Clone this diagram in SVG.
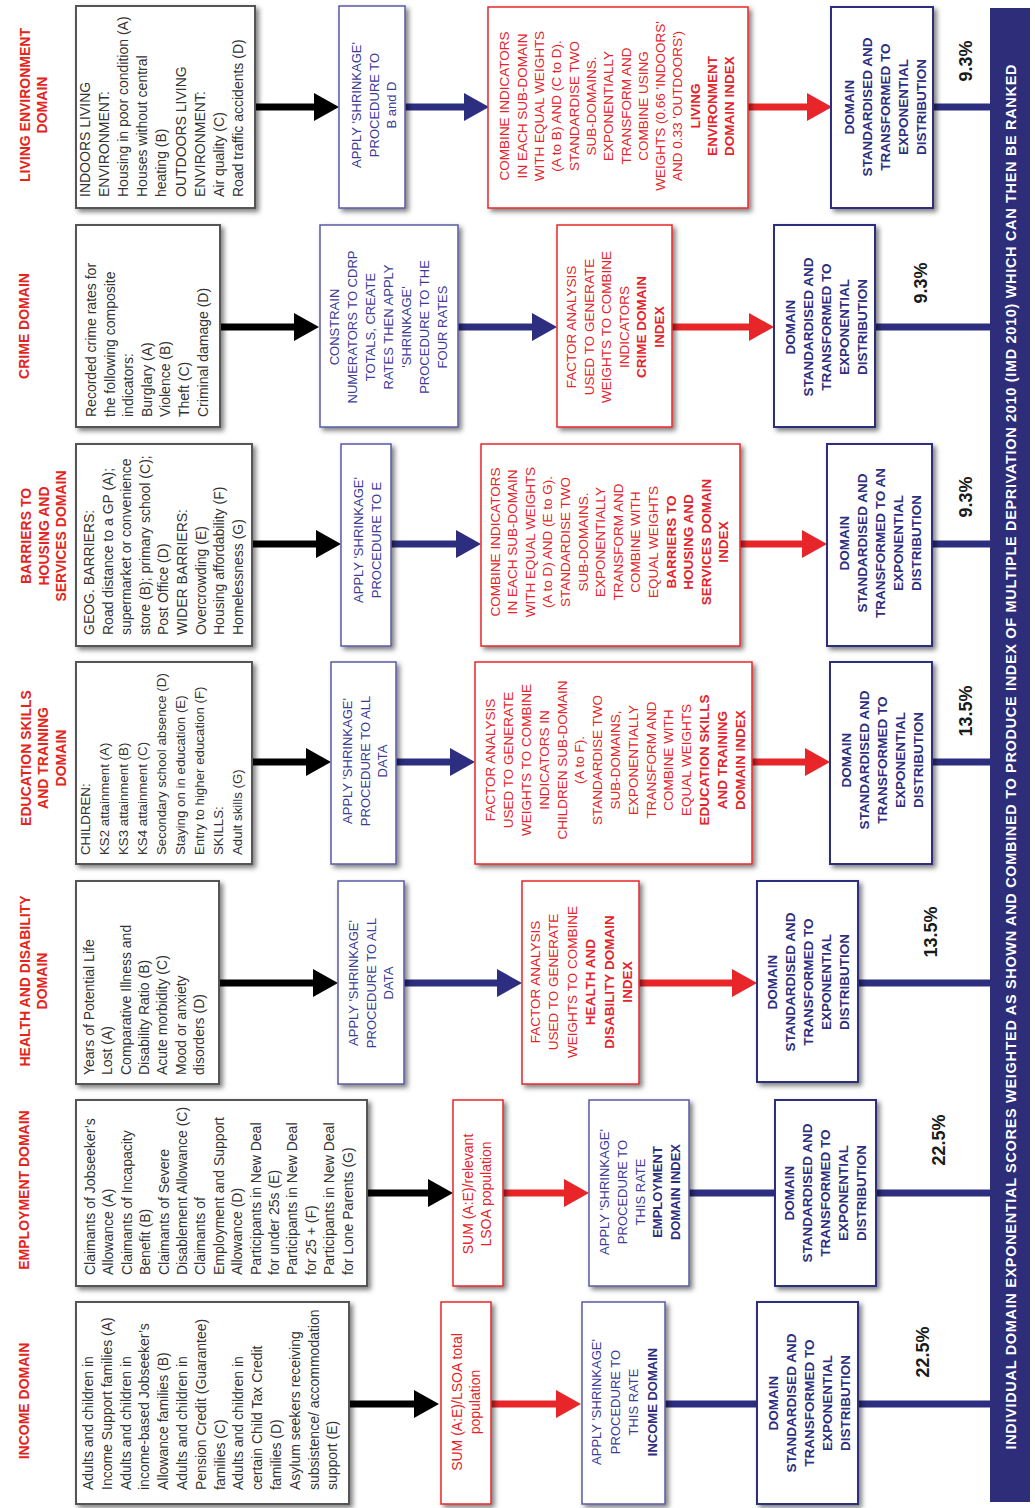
<svg xmlns="http://www.w3.org/2000/svg" width="1035" height="1508" viewBox="0 0 1035 1508">
<defs>
<filter id="sh" x="-15%" y="-15%" width="135%" height="135%"><feDropShadow dx="3" dy="3" stdDeviation="2.5" flood-color="#000" flood-opacity="0.5"/></filter>
<marker id="hK" markerUnits="userSpaceOnUse" markerWidth="25" markerHeight="28" refX="0" refY="14" orient="auto"><path d="M0,0L25,14L0,28z" fill="#000"/></marker>
<marker id="hN" markerUnits="userSpaceOnUse" markerWidth="25" markerHeight="28" refX="0" refY="14" orient="auto"><path d="M0,0L25,14L0,28z" fill="#2d2e7f"/></marker>
<marker id="hR" markerUnits="userSpaceOnUse" markerWidth="25" markerHeight="28" refX="0" refY="14" orient="auto"><path d="M0,0L25,14L0,28z" fill="#e8262a"/></marker>
</defs>
<style>
text{font-family:'Liberation Sans',Arial,sans-serif}
.b1{fill:#fff;stroke:#555;stroke-width:2;filter:url(#sh)}
.bb{fill:#fff;stroke:#5a5aa6;stroke-width:1.5;filter:url(#sh)}
.br{fill:#fff;stroke:#e8262a;stroke-width:1.5;filter:url(#sh)}
.bn{fill:#fff;stroke:#2d2e7f;stroke-width:2;filter:url(#sh)}
.t1{font-size:14px;fill:#333}
.t1s{font-size:13.3px}
.tb{font-size:13px;fill:#3c3c96}
.tbb{font-weight:bold;fill:#2d2e7f}
.tr{font-size:13.5px;fill:#e4232a}
.trs{font-size:14px;fill:#e4232a}
.trb{font-weight:bold}
.tn{font-size:13.5px;font-weight:bold;fill:#2d2e7f}
.lab{font-size:14px;font-weight:bold;fill:#e52420}
.pct{font-size:18px;font-weight:bold;fill:#1a1a1a}
.bart{font-size:14.5px;font-weight:bold;fill:#fff}
.ck{stroke:#000;stroke-width:7;fill:none}
.cn{stroke:#2d2e7f;stroke-width:7;fill:none}
.cr{stroke:#e8262a;stroke-width:7;fill:none}
</style>
<rect width="1035" height="1508" fill="#fff"/>

<g id="connectors">
<line class="ck" x1="255" y1="107" x2="314" y2="107" marker-end="url(#hK)"/>
<line class="cn" x1="405" y1="107" x2="464" y2="107" marker-end="url(#hN)"/>
<line class="cr" x1="748" y1="107" x2="807" y2="107" marker-end="url(#hR)"/>
<line class="cn" x1="933" y1="107" x2="992" y2="107"/>

<line class="ck" x1="220" y1="327" x2="294" y2="327" marker-end="url(#hK)"/>
<line class="cn" x1="458" y1="327" x2="532" y2="327" marker-end="url(#hN)"/>
<line class="cr" x1="672" y1="327" x2="749" y2="327" marker-end="url(#hR)"/>
<line class="cn" x1="875" y1="327" x2="992" y2="327"/>

<line class="ck" x1="252" y1="544" x2="316" y2="544" marker-end="url(#hK)"/>
<line class="cn" x1="391" y1="544" x2="456" y2="544" marker-end="url(#hN)"/>
<line class="cr" x1="740" y1="544" x2="802" y2="544" marker-end="url(#hR)"/>
<line class="cn" x1="932" y1="544" x2="992" y2="544"/>

<line class="ck" x1="252" y1="762" x2="306" y2="762" marker-end="url(#hK)"/>
<line class="cn" x1="396" y1="762" x2="450" y2="762" marker-end="url(#hN)"/>
<line class="cr" x1="752" y1="762" x2="805" y2="762" marker-end="url(#hR)"/>
<line class="cn" x1="932" y1="762" x2="992" y2="762"/>

<line class="ck" x1="219" y1="983" x2="313" y2="983" marker-end="url(#hK)"/>
<line class="cn" x1="404" y1="983" x2="497" y2="983" marker-end="url(#hN)"/>
<line class="cr" x1="639" y1="983" x2="732" y2="983" marker-end="url(#hR)"/>
<line class="cn" x1="858" y1="983" x2="992" y2="983"/>

<line class="ck" x1="367" y1="1193" x2="428" y2="1193" marker-end="url(#hK)"/>
<line class="cr" x1="503" y1="1193" x2="564" y2="1193" marker-end="url(#hR)"/>
<line class="cn" x1="689" y1="1193" x2="775" y2="1193"/>
<line class="cn" x1="876" y1="1193" x2="992" y2="1193"/>

<line class="ck" x1="349" y1="1404" x2="414" y2="1404" marker-end="url(#hK)"/>
<line class="cr" x1="491" y1="1404" x2="556" y2="1404" marker-end="url(#hR)"/>
<line class="cn" x1="665" y1="1404" x2="757" y2="1404"/>
<line class="cn" x1="858" y1="1404" x2="992" y2="1404"/>
</g>

<!-- IMD bar -->
<g id="imd-bar">
<rect x="990" y="8" width="40" height="1494" fill="#2e2d7a"/>
<g transform="translate(1011,757) rotate(-90)"><text class="bart" text-anchor="middle" x="0" y="5.2" textLength="1385" lengthAdjust="spacing">INDIVIDUAL DOMAIN EXPONENTIAL SCORES WEIGHTED AS SHOWN AND COMBINED TO PRODUCE INDEX OF MULTIPLE DEPRIVATION 2010 (IMD 2010) WHICH CAN THEN BE RANKED</text></g>
</g>

<!-- LIVING ENVIRONMENT -->
<g id="living-label" transform="translate(33.5,105) rotate(-90)"><text class="lab" text-anchor="middle"><tspan x="0" y="-3.5">LIVING ENVIRONMENT</tspan><tspan x="0" dy="17">DOMAIN</tspan></text></g>
<g id="living-indicators">
<rect class="b1" x="76" y="6" width="179" height="202"/>
<g transform="translate(76,208) rotate(-90)"><text class="t1"><tspan x="11" y="14">INDOORS LIVING</tspan><tspan x="11" dy="19.1">ENVIRONMENT:</tspan><tspan x="11" dy="19.1">Housing in poor condition (A)</tspan><tspan x="11" dy="19.1">Houses without central</tspan><tspan x="11" dy="19.1">heating (B)</tspan><tspan x="11" dy="19.1">OUTDOORS LIVING</tspan><tspan x="11" dy="19.1">ENVIRONMENT:</tspan><tspan x="11" dy="19.1">Air quality (C)</tspan><tspan x="11" dy="19.1">Road traffic accidents (D)</tspan></text></g>
</g>
<g id="living-shrinkage">
<rect class="bb" x="339" y="6" width="66" height="202"/>
<g transform="translate(374,105) rotate(-90)"><text class="tb" text-anchor="middle"><tspan x="0" y="-12.8">APPLY 'SHRINKAGE'</tspan><tspan x="0" dy="17.5">PROCEDURE TO</tspan><tspan x="0" dy="17.5">B and D</tspan></text></g>
</g>
<g id="living-combine">
<rect class="br" x="488" y="7" width="260" height="201"/>
<g transform="translate(617,106) rotate(-90)"><text class="tr" text-anchor="middle"><tspan x="0" y="-107.6">COMBINE INDICATORS</tspan><tspan x="0" dy="17.3">IN EACH SUB-DOMAIN</tspan><tspan x="0" dy="17.3">WITH EQUAL WEIGHTS</tspan><tspan x="0" dy="17.3">(A to B) AND (C to D).</tspan><tspan x="0" dy="17.3">STANDARDISE TWO</tspan><tspan x="0" dy="17.3">SUB-DOMAINS.</tspan><tspan x="0" dy="17.3">EXPONENTIALLY</tspan><tspan x="0" dy="17.3">TRANSFORM AND</tspan><tspan x="0" dy="17.3">COMBINE USING</tspan><tspan x="0" dy="17.3">WEIGHTS (0.66 'INDOORS'</tspan><tspan x="0" dy="17.3">AND 0.33 'OUTDOORS')</tspan><tspan class="trb" x="0" dy="17.3">LIVING</tspan><tspan class="trb" x="0" dy="17.3">ENVIRONMENT</tspan><tspan class="trb" x="0" dy="17.3">DOMAIN INDEX</tspan></text></g>
</g>
<g id="living-standardise">
<rect class="bn" x="831" y="7" width="102" height="201"/>
<g transform="translate(885,107) rotate(-90)"><text class="tn" text-anchor="middle"><tspan x="0" y="-31.1">DOMAIN</tspan><tspan x="0" dy="18">STANDARDISED AND</tspan><tspan x="0" dy="18">TRANSFORMED TO</tspan><tspan x="0" dy="18">EXPONENTIAL</tspan><tspan x="0" dy="18">DISTRIBUTION</tspan></text></g>
</g>
<g id="living-weight" transform="translate(965,61) rotate(-90)"><text class="pct" text-anchor="middle" x="0" y="6.5">9.3%</text></g>

<!-- CRIME -->
<g id="crime-label" transform="translate(24,326) rotate(-90)"><text class="lab" text-anchor="middle" x="0" y="5">CRIME DOMAIN</text></g>
<g id="crime-indicators">
<rect class="b1" x="76" y="225" width="144" height="202"/>
<g transform="translate(76,427) rotate(-90)"><text class="t1"><tspan x="10" y="20">Recorded crime rates for</tspan><tspan x="10" dy="18.6">the following composite</tspan><tspan x="10" dy="18.6">indicators:</tspan><tspan x="10" dy="18.6">Burglary (A)</tspan><tspan x="10" dy="18.6">Violence (B)</tspan><tspan x="10" dy="18.6">Theft (C)</tspan><tspan x="10" dy="18.6">Criminal damage (D)</tspan></text></g>
</g>
<g id="crime-shrinkage">
<rect class="bb" x="320" y="225" width="138" height="202"/>
<g transform="translate(388,327) rotate(-90)"><text class="tb" text-anchor="middle"><tspan x="0" y="-49.3">CONSTRAIN</tspan><tspan x="0" dy="18">NUMERATORS TO CDRP</tspan><tspan x="0" dy="18">TOTALS, CREATE</tspan><tspan x="0" dy="18">RATES THEN APPLY</tspan><tspan x="0" dy="18">'SHRINKAGE'</tspan><tspan x="0" dy="18">PROCEDURE TO THE</tspan><tspan x="0" dy="18">FOUR RATES</tspan></text></g>
</g>
<g id="crime-combine">
<rect class="br" x="557" y="225" width="115" height="202"/>
<g transform="translate(615,327) rotate(-90)"><text class="tr" text-anchor="middle"><tspan x="0" y="-38.9">FACTOR ANALYSIS</tspan><tspan x="0" dy="17.5">USED TO GENERATE</tspan><tspan x="0" dy="17.5">WEIGHTS TO COMBINE</tspan><tspan x="0" dy="17.5">INDICATORS</tspan><tspan class="trb" x="0" dy="17.5">CRIME DOMAIN</tspan><tspan class="trb" x="0" dy="17.5">INDEX</tspan></text></g>
</g>
<g id="crime-standardise">
<rect class="bn" x="774" y="225" width="101" height="202"/>
<g transform="translate(826,327) rotate(-90)"><text class="tn" text-anchor="middle"><tspan x="0" y="-31.1">DOMAIN</tspan><tspan x="0" dy="18">STANDARDISED AND</tspan><tspan x="0" dy="18">TRANSFORMED TO</tspan><tspan x="0" dy="18">EXPONENTIAL</tspan><tspan x="0" dy="18">DISTRIBUTION</tspan></text></g>
</g>
<g id="crime-weight" transform="translate(920,283) rotate(-90)"><text class="pct" text-anchor="middle" x="0" y="6.5">9.3%</text></g>

<!-- BARRIERS -->
<g id="barriers-label" transform="translate(43.5,536) rotate(-90)"><text class="lab" text-anchor="middle"><tspan x="0" y="-12.5">BARRIERS TO</tspan><tspan x="0" dy="17.5">HOUSING AND</tspan><tspan x="0" dy="17.5">SERVICES DOMAIN</tspan></text></g>
<g id="barriers-indicators">
<rect class="b1" x="76" y="444" width="176" height="202"/>
<g transform="translate(76,646) rotate(-90)"><text class="t1"><tspan x="11" y="18">GEOG. BARRIERS:</tspan><tspan x="11" dy="18.6">Road distance to a GP (A);</tspan><tspan x="11" dy="18.6">supermarket or convenience</tspan><tspan x="11" dy="18.6">store (B); primary school (C);</tspan><tspan x="11" dy="18.6">Post Office (D)</tspan><tspan x="11" dy="18.6">WIDER BARRIERS:</tspan><tspan x="11" dy="18.6">Overcrowding (E)</tspan><tspan x="11" dy="18.6">Housing affordability (F)</tspan><tspan x="11" dy="18.6">Homelessness (G)</tspan></text></g>
</g>
<g id="barriers-shrinkage">
<rect class="bb" x="341" y="444" width="50" height="202"/>
<g transform="translate(367,540) rotate(-90)"><text class="tb" text-anchor="middle"><tspan x="0" y="-4.3">APPLY 'SHRINKAGE'</tspan><tspan x="0" dy="18">PROCEDURE TO E</tspan></text></g>
</g>
<g id="barriers-combine">
<rect class="br" x="481" y="444" width="259" height="202"/>
<g transform="translate(609,542) rotate(-90)"><text class="tr" text-anchor="middle"><tspan x="0" y="-109.5">COMBINE INDICATORS</tspan><tspan x="0" dy="17.6">IN EACH SUB-DOMAIN</tspan><tspan x="0" dy="17.6">WITH EQUAL WEIGHTS</tspan><tspan x="0" dy="17.6">(A to D) AND (E to G).</tspan><tspan x="0" dy="17.6">STANDARDISE TWO</tspan><tspan x="0" dy="17.6">SUB-DOMAINS.</tspan><tspan x="0" dy="17.6">EXPONENTIALLY</tspan><tspan x="0" dy="17.6">TRANSFORM AND</tspan><tspan x="0" dy="17.6">COMBINE WITH</tspan><tspan x="0" dy="17.6">EQUAL WEIGHTS</tspan><tspan class="trb" x="0" dy="17.6">BARRIERS TO</tspan><tspan class="trb" x="0" dy="17.6">HOUSING AND</tspan><tspan class="trb" x="0" dy="17.6">SERVICES DOMAIN</tspan><tspan class="trb" x="0" dy="17.6">INDEX</tspan></text></g>
</g>
<g id="barriers-standardise">
<rect class="bn" x="827" y="444" width="105" height="202"/>
<g transform="translate(880,543) rotate(-90)"><text class="tn" text-anchor="middle"><tspan x="0" y="-31.1">DOMAIN</tspan><tspan x="0" dy="18">STANDARDISED AND</tspan><tspan x="0" dy="18">TRANSFORMED TO AN</tspan><tspan x="0" dy="18">EXPONENTIAL</tspan><tspan x="0" dy="18">DISTRIBUTION</tspan></text></g>
</g>
<g id="barriers-weight" transform="translate(965,497) rotate(-90)"><text class="pct" text-anchor="middle" x="0" y="6.5">9.3%</text></g>

<!-- EDUCATION -->
<g id="education-label" transform="translate(43,758) rotate(-90)"><text class="lab" text-anchor="middle"><tspan x="0" y="-12.5">EDUCATION SKILLS</tspan><tspan x="0" dy="17.5">AND TRAINING</tspan><tspan x="0" dy="17.5">DOMAIN</tspan></text></g>
<g id="education-indicators">
<rect class="b1" x="76" y="662" width="176" height="202"/>
<g transform="translate(76,864) rotate(-90)"><text class="t1 t1s"><tspan x="9" y="14">CHILDREN:</tspan><tspan x="9" dy="19">KS2 attainment (A)</tspan><tspan x="9" dy="19">KS3 attainment (B)</tspan><tspan x="9" dy="19">KS4 attainment (C)</tspan><tspan x="9" dy="19">Secondary school absence (D)</tspan><tspan x="9" dy="19">Staying on in education (E)</tspan><tspan x="9" dy="19">Entry to higher education (F)</tspan><tspan x="9" dy="19">SKILLS:</tspan><tspan x="9" dy="19">Adult skills (G)</tspan></text></g>
</g>
<g id="education-shrinkage">
<rect class="bb" x="331" y="662" width="65" height="202"/>
<g transform="translate(365,761) rotate(-90)"><text class="tb" text-anchor="middle"><tspan x="0" y="-12.8">APPLY 'SHRINKAGE'</tspan><tspan x="0" dy="17.5">PROCEDURE TO ALL</tspan><tspan x="0" dy="17.5">DATA</tspan></text></g>
</g>
<g id="education-combine">
<rect class="br" x="475" y="662" width="277" height="202"/>
<g transform="translate(615,760) rotate(-90)"><text class="tr" text-anchor="middle"><tspan x="0" y="-119.7">FACTOR ANALYSIS</tspan><tspan x="0" dy="17.8">USED TO GENERATE</tspan><tspan x="0" dy="17.8">WEIGHTS TO COMBINE</tspan><tspan x="0" dy="17.8">INDICATORS IN</tspan><tspan x="0" dy="17.8">CHILDREN SUB-DOMAIN</tspan><tspan x="0" dy="17.8">(A to F).</tspan><tspan x="0" dy="17.8">STANDARDISE TWO</tspan><tspan x="0" dy="17.8">SUB-DOMAINS,</tspan><tspan x="0" dy="17.8">EXPONENTIALLY</tspan><tspan x="0" dy="17.8">TRANSFORM AND</tspan><tspan x="0" dy="17.8">COMBINE WITH</tspan><tspan x="0" dy="17.8">EQUAL WEIGHTS</tspan><tspan class="trb" x="0" dy="17.8">EDUCATION SKILLS</tspan><tspan class="trb" x="0" dy="17.8">AND TRAINING</tspan><tspan class="trb" x="0" dy="17.8">DOMAIN INDEX</tspan></text></g>
</g>
<g id="education-standardise">
<rect class="bn" x="830" y="662" width="102" height="202"/>
<g transform="translate(882,760) rotate(-90)"><text class="tn" text-anchor="middle"><tspan x="0" y="-31.1">DOMAIN</tspan><tspan x="0" dy="18">STANDARDISED AND</tspan><tspan x="0" dy="18">TRANSFORMED TO</tspan><tspan x="0" dy="18">EXPONENTIAL</tspan><tspan x="0" dy="18">DISTRIBUTION</tspan></text></g>
</g>
<g id="education-weight" transform="translate(965,711) rotate(-90)"><text class="pct" text-anchor="middle" x="0" y="6.5">13.5%</text></g>

<!-- HEALTH -->
<g id="health-label" transform="translate(33.5,981) rotate(-90)"><text class="lab" text-anchor="middle"><tspan x="0" y="-3.5">HEALTH AND DISABILITY</tspan><tspan x="0" dy="17">DOMAIN</tspan></text></g>
<g id="health-indicators">
<rect class="b1" x="76" y="881" width="143" height="203"/>
<g transform="translate(76,1084) rotate(-90)"><text class="t1"><tspan x="9" y="18">Years of Potential Life</tspan><tspan x="9" dy="18.3">Lost (A)</tspan><tspan x="9" dy="18.3">Comparative Illness and</tspan><tspan x="9" dy="18.3">Disability Ratio (B)</tspan><tspan x="9" dy="18.3">Acute morbidity (C)</tspan><tspan x="9" dy="18.3">Mood or anxiety</tspan><tspan x="9" dy="18.3">disorders (D)</tspan></text></g>
</g>
<g id="health-shrinkage">
<rect class="bb" x="338" y="881" width="66" height="203"/>
<g transform="translate(371,983) rotate(-90)"><text class="tb" text-anchor="middle"><tspan x="0" y="-12.8">APPLY 'SHRINKAGE'</tspan><tspan x="0" dy="17.5">PROCEDURE TO ALL</tspan><tspan x="0" dy="17.5">DATA</tspan></text></g>
</g>
<g id="health-combine">
<rect class="br" x="522" y="881" width="117" height="203"/>
<g transform="translate(581,982) rotate(-90)"><text class="tr" text-anchor="middle"><tspan x="0" y="-41.4">FACTOR ANALYSIS</tspan><tspan x="0" dy="18.5">USED TO GENERATE</tspan><tspan x="0" dy="18.5">WEIGHTS TO COMBINE</tspan><tspan class="trb" x="0" dy="18.5">HEALTH AND</tspan><tspan class="trb" x="0" dy="18.5">DISABILITY DOMAIN</tspan><tspan class="trb" x="0" dy="18.5">INDEX</tspan></text></g>
</g>
<g id="health-standardise">
<rect class="bn" x="757" y="881" width="101" height="201"/>
<g transform="translate(808,982) rotate(-90)"><text class="tn" text-anchor="middle"><tspan x="0" y="-31.1">DOMAIN</tspan><tspan x="0" dy="18">STANDARDISED AND</tspan><tspan x="0" dy="18">TRANSFORMED TO</tspan><tspan x="0" dy="18">EXPONENTIAL</tspan><tspan x="0" dy="18">DISTRIBUTION</tspan></text></g>
</g>
<g id="health-weight" transform="translate(930,932) rotate(-90)"><text class="pct" text-anchor="middle" x="0" y="6.5">13.5%</text></g>

<!-- EMPLOYMENT -->
<g id="employment-label" transform="translate(24,1190) rotate(-90)"><text class="lab" text-anchor="middle" x="0" y="5">EMPLOYMENT DOMAIN</text></g>
<g id="employment-indicators">
<rect class="b1" x="76" y="1100" width="291" height="186"/>
<g transform="translate(76,1286) rotate(-90)"><text class="t1"><tspan x="11" y="19">Claimants of Jobseeker’s</tspan><tspan x="11" dy="18.4">Allowance (A)</tspan><tspan x="11" dy="18.4">Claimants of Incapacity</tspan><tspan x="11" dy="18.4">Benefit (B)</tspan><tspan x="11" dy="18.4">Claimants of Severe</tspan><tspan x="11" dy="18.4">Disablement Allowance (C)</tspan><tspan x="11" dy="18.4">Claimants of</tspan><tspan x="11" dy="18.4">Employment and Support</tspan><tspan x="11" dy="18.4">Allowance (D)</tspan><tspan x="11" dy="18.4">Participants in New Deal</tspan><tspan x="11" dy="18.4">for under 25s (E)</tspan><tspan x="11" dy="18.4">Participants in New Deal</tspan><tspan x="11" dy="18.4">for 25 + (F)</tspan><tspan x="11" dy="18.4">Participants in New Deal</tspan><tspan x="11" dy="18.4">for Lone Parents (G)</tspan></text></g>
</g>
<g id="employment-sum">
<rect class="br" x="453" y="1100" width="50" height="186"/>
<g transform="translate(477,1194) rotate(-90)"><text class="trs" text-anchor="middle"><tspan x="0" y="-4">SUM (A:E)/relevant</tspan><tspan x="0" dy="18">LSOA population</tspan></text></g>
</g>
<g id="employment-shrinkage">
<rect class="bb" x="589" y="1100" width="100" height="186"/>
<g transform="translate(640,1192) rotate(-90)"><text class="tb" text-anchor="middle"><tspan x="0" y="-30.9">APPLY 'SHRINKAGE'</tspan><tspan x="0" dy="17.8">PROCEDURE TO</tspan><tspan x="0" dy="17.8">THIS RATE</tspan><tspan class="tbb" x="0" dy="17.8">EMPLOYMENT</tspan><tspan class="tbb" x="0" dy="17.8">DOMAIN INDEX</tspan></text></g>
</g>
<g id="employment-standardise">
<rect class="bn" x="775" y="1100" width="101" height="186"/>
<g transform="translate(825,1193) rotate(-90)"><text class="tn" text-anchor="middle"><tspan x="0" y="-31.1">DOMAIN</tspan><tspan x="0" dy="18">STANDARDISED AND</tspan><tspan x="0" dy="18">TRANSFORMED TO</tspan><tspan x="0" dy="18">EXPONENTIAL</tspan><tspan x="0" dy="18">DISTRIBUTION</tspan></text></g>
</g>
<g id="employment-weight" transform="translate(938,1140) rotate(-90)"><text class="pct" text-anchor="middle" x="0" y="6.5">22.5%</text></g>

<!-- INCOME -->
<g id="income-label" transform="translate(24,1401) rotate(-90)"><text class="lab" text-anchor="middle" x="0" y="5">INCOME DOMAIN</text></g>
<g id="income-indicators">
<rect class="b1" x="76" y="1302" width="273" height="202"/>
<g transform="translate(76,1504) rotate(-90)"><text class="t1"><tspan x="14" y="17">Adults and children in</tspan><tspan x="14" dy="18.8">Income Support families (A)</tspan><tspan x="14" dy="18.8">Adults and children in</tspan><tspan x="14" dy="18.8">income-based Jobseeker’s</tspan><tspan x="14" dy="18.8">Allowance families (B)</tspan><tspan x="14" dy="18.8">Adults and children in</tspan><tspan x="14" dy="18.8">Pension Credit (Guarantee)</tspan><tspan x="14" dy="18.8">families (C)</tspan><tspan x="14" dy="18.8">Adults and children in</tspan><tspan x="14" dy="18.8">certain Child Tax Credit</tspan><tspan x="14" dy="18.8">families (D)</tspan><tspan x="14" dy="18.8">Asylum seekers receiving</tspan><tspan x="14" dy="18.8">subsistence/ accommodation</tspan><tspan x="14" dy="18.8">support (E)</tspan></text></g>
</g>
<g id="income-sum">
<rect class="br" x="441" y="1302" width="50" height="202"/>
<g transform="translate(466,1402) rotate(-90)"><text class="trs" text-anchor="middle"><tspan x="0" y="-4">SUM (A:E)/LSOA total</tspan><tspan x="0" dy="18">population</tspan></text></g>
</g>
<g id="income-shrinkage">
<rect class="bb" x="582" y="1302" width="83" height="202"/>
<g transform="translate(624,1402) rotate(-90)"><text class="tb" text-anchor="middle"><tspan x="0" y="-23">APPLY 'SHRINKAGE'</tspan><tspan x="0" dy="18.5">PROCEDURE TO</tspan><tspan x="0" dy="18.5">THIS RATE</tspan><tspan class="tbb" x="0" dy="18.5">INCOME DOMAIN</tspan></text></g>
</g>
<g id="income-standardise">
<rect class="bn" x="757" y="1302" width="101" height="202"/>
<g transform="translate(809,1403) rotate(-90)"><text class="tn" text-anchor="middle"><tspan x="0" y="-31.1">DOMAIN</tspan><tspan x="0" dy="18">STANDARDISED AND</tspan><tspan x="0" dy="18">TRANSFORMED TO</tspan><tspan x="0" dy="18">EXPONENTIAL</tspan><tspan x="0" dy="18">DISTRIBUTION</tspan></text></g>
</g>
<g id="income-weight" transform="translate(922,1352) rotate(-90)"><text class="pct" text-anchor="middle" x="0" y="6.5">22.5%</text></g>
</svg>
